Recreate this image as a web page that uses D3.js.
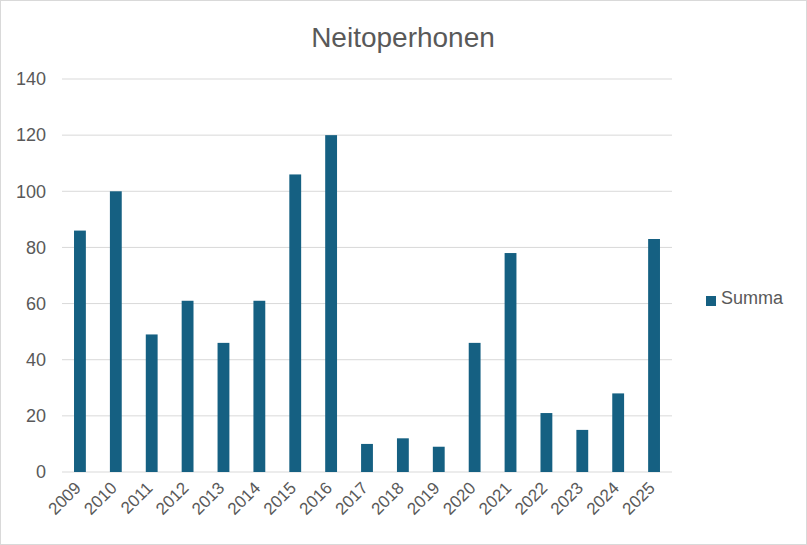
<!DOCTYPE html>
<html lang="fi">
<head>
  <meta charset="UTF-8">
  <title>Neitoperhonen</title>
  <script src="https://d3js.org/d3.v7.min.js"></script>
  <style>
    body { margin: 0; background: #fff; }
    text { font-family: "Liberation Sans", Arial, sans-serif; }
  </style>
</head>
<body>
  <svg width="807" height="545"></svg>

  <script>
    // Data
    const years = ['2009', '2010', '2011', '2012', '2013', '2014', '2015', '2016', '2017',
                   '2018', '2019', '2020', '2021', '2022', '2023', '2024', '2025'];
    const summa = [86, 100, 49, 61, 46, 61, 106, 120, 10, 12, 9, 46, 78, 21, 15, 28, 83];
    const yTicks = [0, 20, 40, 60, 80, 100, 120, 140];

    const svg = d3.select('svg');
    const barColor = '#156082';
    const textColor = '#595959';

    // Outer border
    svg.append('rect')
      .attr('x', 0.5).attr('y', 0.5)
      .attr('width', 806).attr('height', 544)
      .attr('fill', '#fff')
      .attr('stroke', '#d9d9d9');

    const x = d3.scaleBand()
      .domain(years)
      .range([62, 672])
      .paddingInner(0.67)
      .paddingOuter(0.335);

    const y = d3.scaleLinear()
      .domain([0, 140])
      .range([472, 79]);

    // Gridlines
    svg.selectAll('.grid')
      .data(yTicks)
      .enter().append('line')
      .attr('x1', 62).attr('x2', 672)
      .attr('y1', d => y(d)).attr('y2', d => y(d))
      .attr('stroke', '#d9d9d9')
      .attr('stroke-width', 1);

    // Y labels
    svg.selectAll('.ylab')
      .data(yTicks)
      .enter().append('text')
      .attr('x', 46)
      .attr('y', d => y(d))
      .attr('dy', '0.35em')
      .attr('text-anchor', 'end')
      .attr('font-size', 18)
      .attr('fill', textColor)
      .text(d => d);

    // Bars
    svg.selectAll('.bar')
      .data(summa)
      .enter().append('rect')
      .attr('x', (d, i) => x(years[i]))
      .attr('y', d => y(d))
      .attr('width', x.bandwidth())
      .attr('height', d => y(0) - y(d))
      .attr('fill', barColor);

    // X labels, rotated
    svg.selectAll('.xlab')
      .data(years)
      .enter().append('text')
      .attr('transform', d => `translate(${x(d) + x.bandwidth() / 2 + 2},${489}) rotate(-45)`)
      .attr('text-anchor', 'end')
      .attr('font-size', 17)
      .attr('fill', textColor)
      .text(d => d);

    // Title
    svg.append('text')
      .attr('x', 403)
      .attr('y', 47)
      .attr('text-anchor', 'middle')
      .attr('font-size', 28)
      .attr('fill', textColor)
      .text('Neitoperhonen');

    // Legend
    svg.append('rect')
      .attr('x', 706).attr('y', 296)
      .attr('width', 10).attr('height', 10)
      .attr('fill', barColor);
    svg.append('text')
      .attr('x', 721).attr('y', 304)
      .attr('font-size', 18)
      .attr('fill', textColor)
      .text('Summa');
  </script>
</body>
</html>
